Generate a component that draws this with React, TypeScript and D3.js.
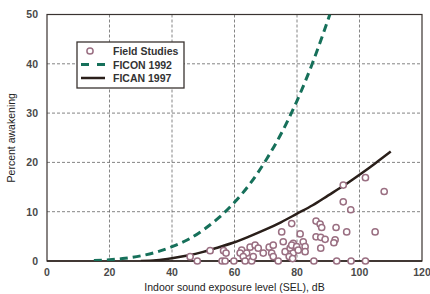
import React from "react";
import * as d3 from "d3";

const fieldX = [45.8,48.1,52.2,56.5,57.3,56.0,57.0,59.8,62.3,61.8,63.9,62.8,65.5,65.0,66.6,67.6,66.0,69.2,71.1,72.4,71.9,72.4,74.0,75.1,75.6,76.2,77.8,78.3,78.8,78.8,77.5,81.0,78.3,79.9,80.4,82.0,82.6,82.6,78.6,85.4,86.1,87.4,87.9,92.5,95.9,86.1,87.6,89.0,92.2,91.8,87.6,92.7,97.3,94.8,94.8,97.2,101.9,107.9,105.0,101.9,63.4];
const fieldY = [0.87,0,2.1,2.1,1.6,0,0,0,2.2,1.6,1.6,0.9,0,2.8,3.2,2.6,0.9,1.6,2.8,3.2,1.6,0.9,0,5.9,3.9,1.9,2.6,7.6,3.6,1.6,0.9,5.5,3.2,2.9,2.2,3.9,2.9,1.9,0.5,0,8.1,7.5,6.8,6.8,5.9,4.9,4.8,4.4,4.3,3.7,2.6,0,0,15.4,12.0,10.4,16.9,14.1,5.9,0,0];

const ficonX = [15,20,25,30,35,40,45,50,55,60,65,70,75,80,85,90.5];
const ficonY = [0.1,0.25,0.55,1.05,1.8,2.9,4.3,6.3,8.8,11.9,15.7,20.4,25.9,32.5,40.2,50];

const ficanX = [30,35,40,45,50,55,60,65,70,75,80,85,90,95,100,105,110];
const ficanY = [0,0.15,0.55,1.1,1.85,2.8,3.8,5.05,6.4,7.9,9.6,11.3,13.3,15.3,17.5,19.8,22.2];

const xTicks = [0,20,40,60,80,100,120];
const yTicks = [0,10,20,30,40,50];
const legendLabels = ["Field Studies","FICON 1992","FICAN 1997"];

const W = 430, H = 294;
const L = 47, R = 422, T = 14.5, B = 261;

export default function App() {
  const x = d3.scaleLinear().domain([0,120]).range([L,R]);
  const y = d3.scaleLinear().domain([0,50]).range([B,T]);
  const line = d3.line<[number,number]>().x(d=>x(d[0])).y(d=>y(d[1])).curve(d3.curveMonotoneX);
  const ficon = line(ficonX.map((v,i)=>[v,ficonY[i]] as [number,number])) || "";
  const fican = line(ficanX.map((v,i)=>[v,ficanY[i]] as [number,number])) || "";
  const font = "'Liberation Sans', Arial, Helvetica, sans-serif";
  const ptColor = "#9a6f82";
  const green = "#16705a";
  const dark = "#2a1f1a";
  return (
    <svg width={W} height={H} style={{position:"absolute",left:0,top:0,background:"#fff"}} fontFamily={font}>
      <defs>
        <clipPath id="plot"><rect x={L} y={T} width={R-L} height={B-T}/></clipPath>
      </defs>
      {xTicks.filter(t=>t>0&&t<120).map(t=>(
        <line key={"gx"+t} x1={x(t)} x2={x(t)} y1={T} y2={B} stroke="#666" strokeWidth={0.8} strokeDasharray="3,2"/>
      ))}
      {yTicks.filter(t=>t>0&&t<50).map(t=>(
        <line key={"gy"+t} x1={L} x2={R} y1={y(t)} y2={y(t)} stroke="#666" strokeWidth={0.8} strokeDasharray="3,2"/>
      ))}
      <rect x={L} y={T} width={R-L} height={B-T} fill="none" stroke="#3a3330" strokeWidth={1.2}/>
      <line x1={L} x2={R} y1={B} y2={B} stroke={dark} strokeWidth={1.6}/>
      <g clipPath="url(#plot)">
        <path d={ficon} fill="none" stroke={green} strokeWidth={3} strokeDasharray="8,5"/>
        <path d={fican} fill="none" stroke={dark} strokeWidth={2.5}/>
      </g>
      {fieldX.map((v,i)=>(
        <circle key={"p"+i} cx={x(v)} cy={y(fieldY[i])} r={3.1} fill="#fff" stroke={ptColor} strokeWidth={1.5}/>
      ))}
      {xTicks.map(t=>(
        <text key={"xt"+t} x={x(t)} y={276} textAnchor="middle" fontSize={10.5} fontWeight="bold" fill="#4a4a4a">{t}</text>
      ))}
      {yTicks.map(t=>(
        <text key={"yt"+t} x={38} y={y(t)+3.8} textAnchor="end" fontSize={10.5} fontWeight="bold" fill="#4a4a4a">{t}</text>
      ))}
      <text x={(L+R)/2} y={291} textAnchor="middle" fontSize={10.5} fill="#222">Indoor sound exposure level (SEL), dB</text>
      <text transform={`translate(15,${(T+B)/2}) rotate(-90)`} textAnchor="middle" fontSize={10.5} fill="#222">Percent awakening</text>
      <g>
        <rect x={77} y={42} width={107} height={46} fill="#fff" stroke="#3a3330" strokeWidth={1.3}/>
        <circle cx={90} cy={51} r={3.1} fill="#fff" stroke={ptColor} strokeWidth={1.5}/>
        <line x1={81} x2={105} y1={64.5} y2={64.5} stroke={green} strokeWidth={3} strokeDasharray="8,8"/>
        <line x1={81} x2={105} y1={78} y2={78} stroke={dark} strokeWidth={2.5}/>
        {legendLabels.map((s,i)=>(
          <text key={s} x={113} y={55+i*13.5} fontSize={10.5} fontWeight="bold" fill="#333">{s}</text>
        ))}
      </g>
    </svg>
  );
}
